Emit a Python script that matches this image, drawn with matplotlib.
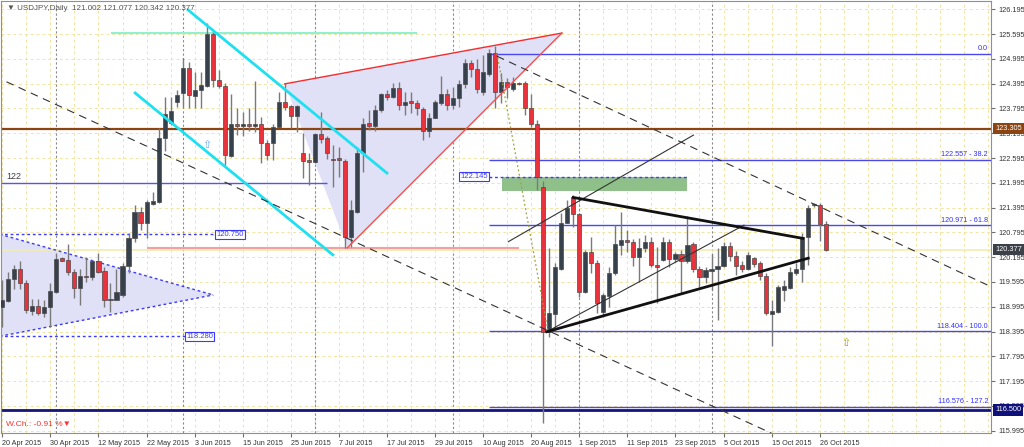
import matplotlib
matplotlib.use('Agg')
import matplotlib.pyplot as plt
import matplotlib.transforms as mtransforms
from matplotlib.patches import Polygon, Rectangle

# USDJPY daily bars, 20 Apr 2015 .. 27 Oct 2015 (bar index = trading day)
opens = [119.00, 119.14, 119.66, 119.90, 119.56, 118.90, 119.01, 118.84, 119.00, 119.36,
         120.17, 120.13, 119.84, 119.44, 119.72, 119.71, 120.09, 119.87, 119.16, 119.16,
         119.28, 119.98, 120.66, 121.30, 121.01, 121.47, 121.52, 123.09, 123.44, 123.94,
         124.16, 124.78, 124.10, 124.24, 124.35, 125.59, 124.48, 124.35, 122.65, 123.41,
         123.37, 123.41, 123.36, 123.43, 122.95, 122.95, 123.35, 123.96, 123.85, 123.61,
         122.72, 122.55, 122.51, 123.18, 123.07, 122.56, 122.59, 122.53, 120.69, 121.30,
         122.72, 123.44, 123.38, 123.76, 124.14, 124.08, 124.28, 123.88, 123.98, 123.92,
         123.77, 123.26, 123.56, 123.92, 124.14, 123.88, 124.04, 124.39, 124.89, 124.74,
         124.20, 124.63, 125.13, 124.20, 124.44, 124.26, 124.40, 124.42, 123.80, 123.41,
         121.90, 118.39, 118.82, 119.92, 121.03, 121.64, 121.24, 119.36, 120.33, 120.06,
         118.87, 119.25, 119.80, 120.49, 120.61, 120.55, 120.21, 120.41, 120.57, 120.00,
         120.13, 120.57, 120.14, 120.27, 120.09, 120.51, 119.90, 119.72, 119.87, 119.92,
         119.98, 120.47, 120.22, 120.00, 119.92, 120.17, 120.05, 119.74, 118.82, 118.87,
         119.40, 119.44, 119.82, 119.92, 120.68, 121.46, 121.46, 121.002]
highs = [119.64, 119.84, 120.00, 120.09, 119.64, 119.17, 119.17, 119.16, 119.58, 120.29,
         120.21, 120.51, 119.92, 119.92, 120.21, 120.13, 120.29, 119.96, 119.58, 119.92,
         120.05, 120.77, 121.46, 121.42, 121.58, 121.78, 123.31, 124.06, 124.06, 124.24,
         125.02, 124.93, 124.68, 124.68, 125.86, 125.65, 124.72, 124.40, 124.15, 123.80,
         123.72, 123.80, 124.46, 123.59, 123.03, 123.43, 124.19, 124.40, 123.88, 123.88,
         123.19, 122.71, 123.19, 123.72, 123.13, 122.91, 122.87, 122.56, 121.58, 122.87,
         123.56, 123.76, 123.88, 124.18, 124.24, 124.40, 124.44, 124.20, 124.20, 124.00,
         123.82, 123.68, 124.00, 124.58, 124.26, 124.31, 124.48, 124.98, 124.97, 124.98,
         125.09, 125.23, 125.31, 124.65, 124.52, 124.56, 124.44, 124.47, 124.14, 123.52,
         122.05, 120.41, 120.05, 121.27, 121.58, 121.70, 121.26, 120.37, 120.69, 120.13,
         119.32, 119.95, 120.97, 121.30, 120.85, 120.63, 120.65, 120.73, 120.69, 120.45,
         120.69, 120.63, 120.33, 120.37, 121.18, 120.57, 119.98, 119.95, 120.27, 120.42,
         120.57, 120.57, 120.35, 120.09, 120.33, 120.21, 120.09, 119.80, 119.16, 119.52,
         119.64, 119.95, 120.05, 120.77, 121.46, 121.51, 121.50, 121.077]
lows = [118.51, 119.12, 119.42, 119.42, 118.84, 118.79, 118.79, 118.74, 118.50, 119.32,
        120.09, 119.76, 119.20, 119.04, 119.60, 119.64, 119.80, 119.00, 118.87, 119.16,
        119.24, 119.82, 120.57, 120.85, 120.65, 121.46, 121.50, 122.76, 123.39, 123.84,
        123.84, 123.80, 123.80, 123.80, 124.32, 124.32, 124.30, 122.43, 122.63, 123.15,
        123.14, 123.25, 123.22, 122.47, 122.55, 122.55, 123.35, 123.76, 123.31, 123.23,
        122.10, 121.94, 122.47, 122.95, 122.56, 121.90, 122.14, 120.41, 120.45, 121.26,
        122.26, 123.27, 123.26, 123.72, 124.00, 124.04, 123.76, 123.64, 123.69, 123.64,
        123.03, 123.10, 123.56, 123.88, 123.76, 123.77, 123.82, 124.28, 124.56, 124.16,
        124.12, 124.58, 123.80, 123.93, 124.04, 124.22, 124.36, 123.64, 123.34, 121.82,
        116.17, 118.27, 118.43, 119.88, 121.01, 120.93, 119.24, 119.32, 119.80, 118.84,
        118.75, 119.00, 119.76, 120.25, 120.33, 119.98, 119.60, 120.33, 119.96, 119.08,
        120.09, 119.96, 120.08, 119.30, 120.05, 119.84, 119.47, 119.56, 119.40, 118.67,
        119.95, 120.09, 119.76, 119.84, 119.88, 119.95, 119.64, 118.79, 118.04, 118.85,
        119.14, 119.42, 119.76, 119.60, 120.00, 121.42, 120.59, 120.342]
closes = [119.16, 119.66, 119.90, 119.56, 118.92, 119.01, 118.84, 119.00, 119.38, 120.14,
          120.11, 119.84, 119.44, 119.74, 119.71, 120.09, 119.84, 119.16, 119.18, 119.34,
          119.98, 120.67, 121.30, 121.01, 121.52, 121.55, 123.09, 123.65, 123.73, 124.12,
          124.78, 124.12, 124.24, 124.36, 125.59, 124.48, 124.35, 122.67, 123.41, 123.37,
          123.43, 123.36, 123.43, 122.95, 122.68, 123.35, 123.94, 123.84, 123.61, 123.85,
          122.53, 122.49, 123.18, 123.05, 122.71, 122.55, 122.55, 120.69, 121.34, 122.72,
          123.42, 123.38, 123.76, 124.14, 124.06, 124.28, 123.88, 123.96, 123.92, 123.80,
          123.26, 123.56, 123.96, 124.14, 123.88, 124.04, 124.39, 124.89, 124.74, 124.26,
          124.68, 125.13, 124.20, 124.44, 124.31, 124.40, 124.39, 123.80, 123.42, 122.14,
          118.39, 118.84, 119.95, 121.03, 121.38, 121.25, 119.36, 120.33, 120.06, 119.09,
          119.28, 119.80, 120.51, 120.61, 120.55, 120.21, 120.41, 120.55, 120.00, 119.95,
          120.57, 120.14, 120.27, 120.09, 120.49, 119.90, 119.72, 119.88, 119.92, 119.98,
          120.47, 120.22, 119.98, 119.92, 120.25, 120.03, 119.74, 118.84, 118.90, 119.47,
          119.50, 119.84, 119.92, 120.69, 121.38, 121.48, 121.00, 120.377]

date_ticks = [0, 8, 16, 24, 32, 40, 48, 56, 64, 72, 80, 88, 96, 104, 112, 120, 128, 136]
date_labels = ['20 Apr 2015', '30 Apr 2015', '12 May 2015', '22 May 2015', '3 Jun 2015',
               '15 Jun 2015', '25 Jun 2015', '7 Jul 2015', '17 Jul 2015', '29 Jul 2015',
               '10 Aug 2015', '20 Aug 2015', '1 Sep 2015', '11 Sep 2015', '23 Sep 2015',
               '5 Oct 2015', '15 Oct 2015', '26 Oct 2015']
month_starts = [9, 30, 52, 75, 96, 118]
price_ticks = [115.995, 116.595, 117.195, 117.795, 118.395, 118.995, 119.595, 120.195,
               120.795, 121.395, 121.995, 122.595, 123.195, 123.795, 124.395, 124.995,
               125.595, 126.195]

fib_prices = [125.124, 122.557, 120.971, 118.404, 116.576]
fib_labels = ['0.0', '122.557 - 38.2', '120.971 - 61.8', '118.404 - 100.0', '116.576 - 127.2']
fib_start = 81

# hand drawn objects, anchors as (bar index, price)
cyan_lines = [[(30.9, 126.18), (64.0, 122.23)], [(22.1, 124.17), (55.0, 120.25)]]
wedge = [(47.0, 124.39), (93.1, 125.62), (57.4, 120.42)]
left_tri = [(-0.4, 120.75), (35.1, 119.28), (-0.4, 118.28)]
dash_lines = [[(0.7, 124.44), (128.6, 115.89)], [(82.3, 125.06), (164.5, 119.48)]]
fib_diag = [(82.3, 125.13), (90.8, 118.40)]
thin_lines = [[(84.2, 120.57), (115.0, 123.15)], [(90.6, 118.39), (123.4, 120.97)]]
thick_lines = [[(95.0, 121.64), (133.2, 120.65)], [(90.6, 118.39), (134.1, 120.17)]]
green_zone = (83.1, 114.0, 121.80, 122.13)

last_price = 120.377
brown_level = 123.305
navy_level = 116.500

fig = plt.figure(figsize=(10.24, 4.47), dpi=100)
ax = fig.add_axes([1/1024, 13.7/447, 990/1024, 432.3/447])
ax.set_xlim(-0.216, 164.5)
ax.set_ylim(115.931, 126.396)
ax.set_facecolor('white')
fnt = ['Liberation Sans', 'DejaVu Sans']

# grid
for gx in range(0, 165, 4):
    ax.axvline(gx, color='#f2e4a0', lw=0.7, ls=(0, (3, 3)), zorder=0)
for gy in price_ticks:
    ax.axhline(gy, color='#f2e4a0', lw=0.7, ls=(0, (3, 3)), zorder=0)
for m in month_starts:
    ax.axvline(m, color='#8a8a8a', lw=0.8, ls=(0, (2, 2)), zorder=0.5)

# filled shapes
ax.add_patch(Polygon(left_tri, closed=True, facecolor='#e0e0f6', edgecolor='none', zorder=1))
ax.add_patch(Polygon(wedge, closed=True, facecolor='#e0e0f6', edgecolor='none', zorder=1))
ax.add_patch(Rectangle((green_zone[0], green_zone[2]), green_zone[1] - green_zone[0],
                       green_zone[3] - green_zone[2], facecolor='#8fc08a', edgecolor='none',
                       zorder=1.5))

# left triangle edges + levels
for a, b in [(left_tri[0], left_tri[1]), (left_tri[2], left_tri[1])]:
    ax.plot([a[0], b[0]], [a[1], b[1]], color='#3a3aff', lw=1, ls=(0, (2, 2)), zorder=2)
ax.hlines(120.75, -0.5, 35.4, color='#3a3aff', lw=1, ls=(0, (2, 2)), zorder=2)
ax.hlines(118.28, -0.5, 30.4, color='#3a3aff', lw=1, ls=(0, (2, 2)), zorder=2)
ax.hlines(122.0, -0.5, 54.0, color='#5555ee', lw=1, zorder=2)
ax.hlines(120.41, 24.1, 86.0, color='#f4a0a0', lw=1.5, zorder=2)
ax.hlines(125.61, 18.1, 69.0, color='#90f0d0', lw=1.5, zorder=2)
ax.hlines(122.145, 81, 114.0, color='#3a3aff', lw=1, ls=(0, (2, 2)), zorder=2)

# horizontal levels
ax.axhline(brown_level, color='#8b4513', lw=1.6, zorder=2)
ax.axhline(last_price, color='#f2ecb0', lw=1.2, zorder=1.8)
ax.axhline(navy_level, color='#14147a', lw=2, zorder=2)
for fp in fib_prices:
    ax.hlines(fp, fib_start, 165, color='#4848f0', lw=1, zorder=2)

# candles
for i in range(len(opens)):
    o, h, l, c = opens[i], highs[i], lows[i], closes[i]
    ax.vlines(i, l, h, color='#7a7a7a', lw=1, zorder=3)
    bot = min(o, c)
    ht = max(abs(c - o), 0.02)
    fc = '#36414c' if c >= o else '#e8323c'
    ax.bar(i, ht, bottom=bot, width=0.68, color=fc, edgecolor='#4a4a4a', lw=0.5, zorder=3.5)

# trend lines
for ln in cyan_lines:
    ax.plot([ln[0][0], ln[1][0]], [ln[0][1], ln[1][1]], color='#1ee0f0', lw=2, zorder=4)
ax.plot([wedge[0][0], wedge[1][0]], [wedge[0][1], wedge[1][1]], color='#f03030', lw=1, zorder=4)
ax.plot([wedge[2][0], wedge[1][0]], [wedge[2][1], wedge[1][1]], color='#f05050', lw=1, zorder=4)
for ln in dash_lines:
    ax.plot([ln[0][0], ln[1][0]], [ln[0][1], ln[1][1]], color='#333333', lw=0.8,
            ls=(0, (7, 5)), zorder=4)
ax.plot([fib_diag[0][0], fib_diag[1][0]], [fib_diag[0][1], fib_diag[1][1]], color='#a0a040',
        lw=0.9, ls=(0, (1.5, 2)), zorder=4)
for ln in thin_lines:
    ax.plot([ln[0][0], ln[1][0]], [ln[0][1], ln[1][1]], color='#333333', lw=0.8, zorder=4)
for ln in thick_lines:
    ax.plot([ln[0][0], ln[1][0]], [ln[0][1], ln[1][1]], color='#111111', lw=2, zorder=4)

# labels inside plot
box = dict(boxstyle='square,pad=0.15', facecolor='white', edgecolor='#3a3aff', lw=0.8)
ax.text(35.6, 120.75, '120.750', color='#3a3aff', fontsize=5.5, family=fnt, va='center',
        ha='left', bbox=box, zorder=5)
ax.text(30.6, 118.28, '118.280', color='#3a3aff', fontsize=5.5, family=fnt, va='center',
        ha='left', bbox=box, zorder=5)
ax.text(80.8, 122.145, '122.145', color='#3a3aff', fontsize=5.5, family=fnt, va='center',
        ha='right', bbox=box, zorder=5)
ax.text(0.6, 122.04, '122', color='#404040', fontsize=6.5, family=fnt, va='bottom', zorder=5)
ytr = mtransforms.blended_transform_factory(ax.transAxes, ax.transData)
for fp, fl in zip(fib_prices, fib_labels):
    ax.text(0.997, fp + 0.03, fl, transform=ytr, color='#3030ff', fontsize=5.2, family=fnt,
            ha='right', va='bottom', zorder=5)
ax.text(34.1, 122.91, '\u21e7', color='#6ea8ff', fontsize=8, family=['DejaVu Sans'],
        ha='center', va='center', zorder=5)
ax.text(140.4, 118.12, '\u21e7', color='#a8a020', fontsize=8, family=['DejaVu Sans'],
        ha='center', va='center', zorder=5)
ax.text(0.005, 0.02, 'W.Ch.: -0.91 %\u25bc', transform=ax.transAxes, color='#ff3030',
        fontsize=6, family=fnt, va='center', zorder=5)
ax.text(0.006, 0.982, '\u25bc USDJPY,Daily  121.002 121.077 120.342 120.377', transform=ax.transAxes,
        color='#555555', fontsize=5.8, family=fnt, va='center', zorder=5)

# axes
for s in ax.spines.values():
    s.set_color('#909090')
    s.set_linewidth(0.8)
ax.yaxis.tick_right()
ax.set_yticks(price_ticks)
ax.set_yticklabels(['%.3f' % p for p in price_ticks], fontsize=5.3, family=fnt, color='#333333')
ax.tick_params(axis='y', length=3, pad=2, color='#707070')
ax.set_xticks(date_ticks)
ax.set_xticklabels(date_labels, fontsize=5.2, family=fnt, color='#333333')
for lbl in ax.get_xticklabels():
    lbl.set_ha('left')
ax.tick_params(axis='x', length=3, pad=2, color='#707070')

# right axis boxes (drawn over the tick labels, as in the terminal)
for val, bg in [(brown_level, '#8b4513'), (last_price, '#3c4048'), (navy_level, '#10107a')]:
    ax.text(1.004, val, '%.3f' % val, transform=ytr, color='white', fontsize=5.3, family=fnt,
            ha='left', va='center', clip_on=False, zorder=6,
            bbox=dict(boxstyle='square,pad=0.3', facecolor=bg, edgecolor='none'))

fig.savefig('out.png', dpi=100)
